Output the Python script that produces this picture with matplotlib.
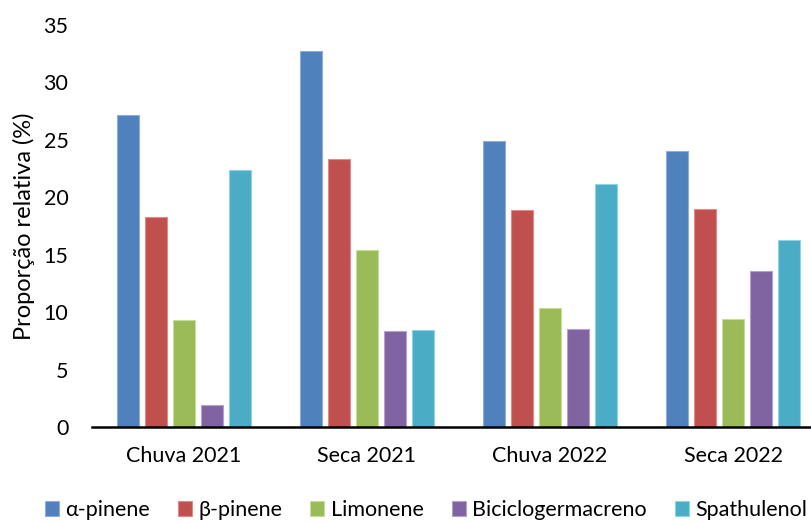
import numpy as np
import matplotlib.pyplot as plt

plt.rcParams['font.family'] = ['Lato', 'DejaVu Sans']

# data
seasons = ['Chuva 2021', 'Seca 2021', 'Chuva 2022', 'Seca 2022']
compounds = ['α-pinene', 'β-pinene', 'Limonene', 'Biciclogermacreno', 'Spathulenol']
alpha_pinene = [27.2, 32.7, 24.9, 24.0]
beta_pinene = [18.3, 23.3, 18.9, 19.0]
limonene = [9.3, 15.45, 10.4, 9.4]
biciclogermacreno = [1.9, 8.4, 8.5, 13.6]
spathulenol = [22.4, 8.45, 21.2, 16.3]

series = [alpha_pinene, beta_pinene, limonene, biciclogermacreno, spathulenol]
colors = ['#4F81BD', '#C0504D', '#9BBB59', '#8064A2', '#4BACC6']
edges = ['#8FAEDB', '#E08A87', '#C8DC9A', '#B3A0CC', '#8FD3E6']

fig = plt.figure(figsize=(8.11, 5.22), dpi=100)
ax = fig.add_axes([92 / 811, 95 / 522, 733 / 811, 402 / 522])

x = np.arange(len(seasons))
step = 0.153
width = 0.12
for i, (vals, c, e, name) in enumerate(zip(series, colors, edges, compounds)):
    ax.bar(x + (i - 2) * step, vals, width, color=c, edgecolor=e,
           linewidth=0.8, label=name)

ax.set_xlim(-0.5, 3.5)
ax.set_ylim(0, 35)
ax.set_yticks(range(0, 36, 5))
ax.set_xticks(x)
ax.set_xticklabels(seasons)
ax.tick_params(axis='both', length=0, labelsize=15.5)
ax.tick_params(axis='x', pad=14)
ax.tick_params(axis='y', pad=17)
for s in ['top', 'right', 'left']:
    ax.spines[s].set_visible(False)
ax.spines['bottom'].set_linewidth(1.8)
ax.spines['bottom'].set_color('black')

ax.set_ylabel('Proporção relativa (%)', fontsize=17, labelpad=6)

fig.legend(loc='center', bbox_to_anchor=(0.525, 12 / 522), ncol=5, frameon=False,
           fontsize=15.5, handlelength=0.65, handleheight=0.65, handletextpad=0.3,
           columnspacing=1.3)

fig.savefig('out.png', dpi=100)
